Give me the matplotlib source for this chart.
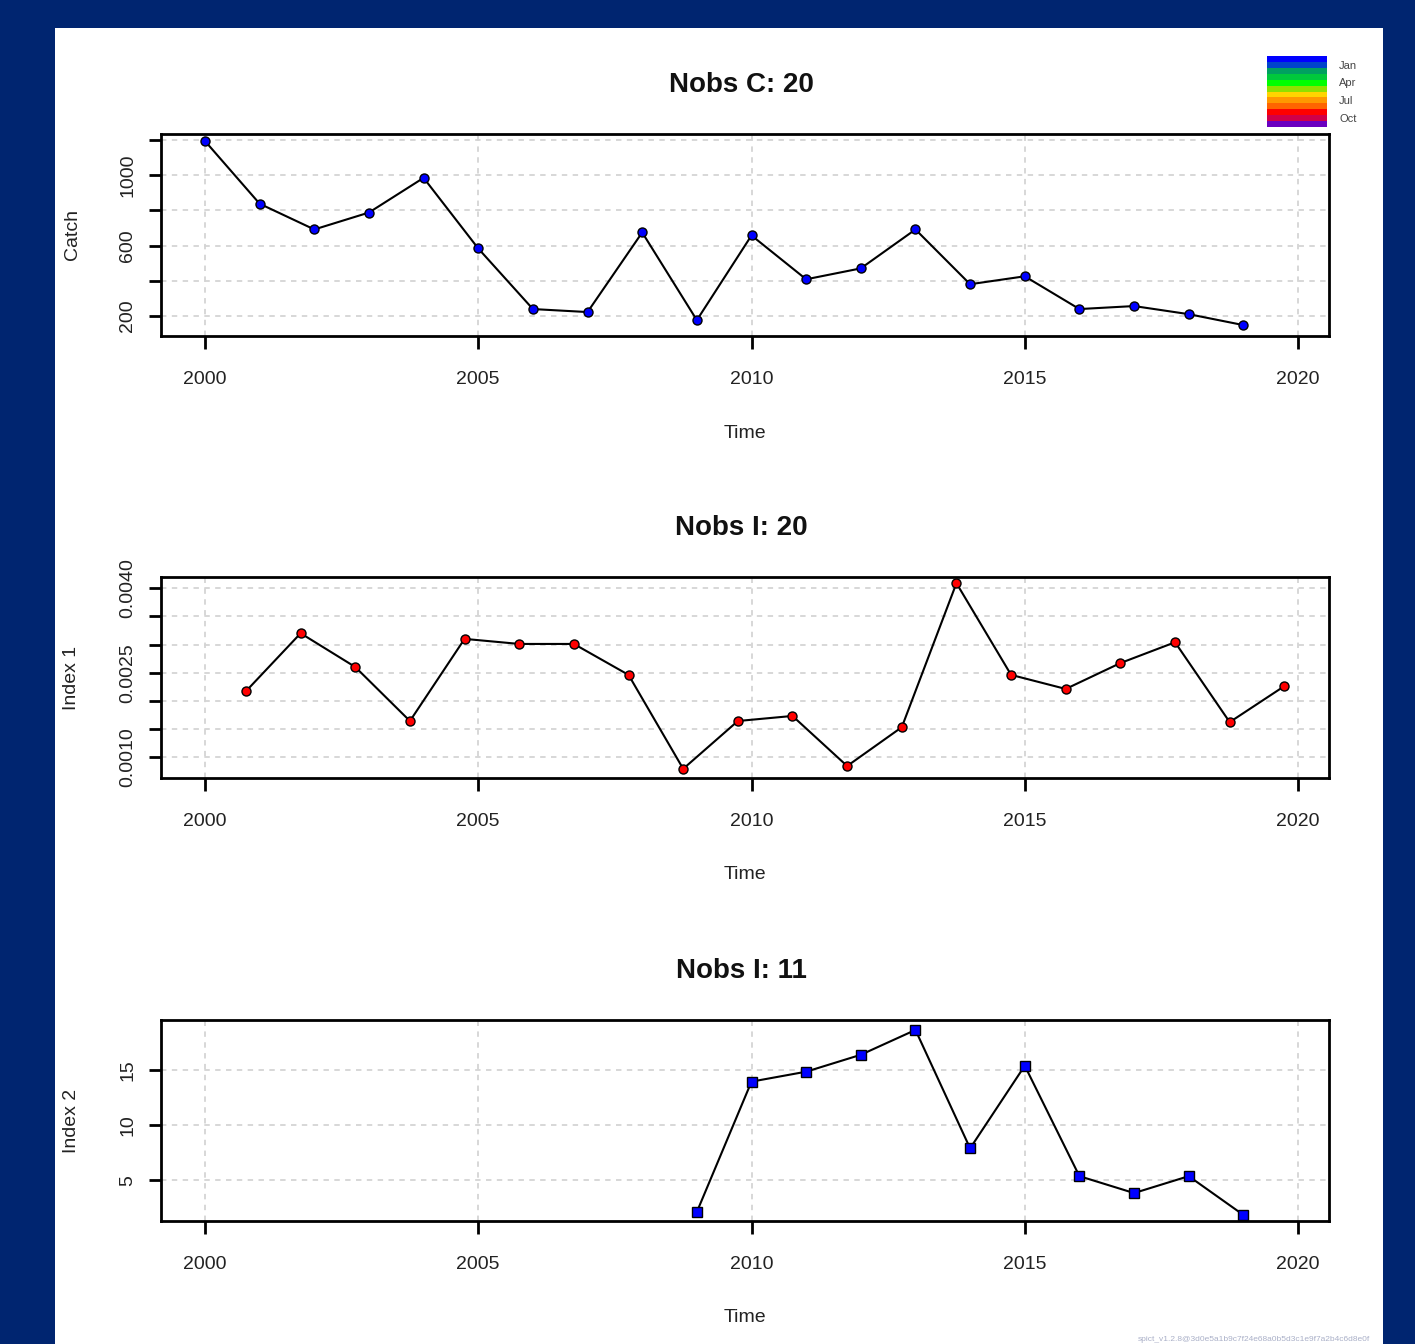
import matplotlib
matplotlib.use("Agg")
import matplotlib.pyplot as plt
from matplotlib.patches import Rectangle
import numpy as np

plt.rcParams['font.family'] = ['Liberation Sans', 'DejaVu Sans']

# Catch series (annual, January)
catch_time = [2000, 2001, 2002, 2003, 2004, 2005, 2006, 2007, 2008, 2009,
              2010, 2011, 2012, 2013, 2014, 2015, 2016, 2017, 2018, 2019]
catch_obs = [1194, 838, 692, 788, 985, 584, 240, 223, 675, 177,
             658, 409, 471, 692, 381, 426, 240, 257, 211, 149]

# Index 1 (surveyed in October)
index1_time = [2000.75, 2001.75, 2002.75, 2003.75, 2004.75, 2005.75, 2006.75,
               2007.75, 2008.75, 2009.75, 2010.75, 2011.75, 2012.75, 2013.75,
               2014.75, 2015.75, 2016.75, 2017.75, 2018.75, 2019.75]
index1_obs = [0.00217, 0.00320, 0.00260, 0.00164, 0.00310, 0.00301, 0.00301,
              0.00246, 0.00079, 0.00164, 0.00173, 0.00084, 0.00153, 0.00409,
              0.00246, 0.00221, 0.00267, 0.00304, 0.00162, 0.00226]

# Index 2 (January)
index2_time = [2009, 2010, 2011, 2012, 2013, 2014, 2015, 2016, 2017, 2018, 2019]
index2_obs = [2.12, 13.92, 14.82, 16.35, 18.6, 7.88, 15.36, 5.36, 3.83, 5.36, 1.85]

x_ticks = [2000, 2005, 2010, 2015, 2020]
month_labels = ['Jan', 'Apr', 'Jul', 'Oct']
month_colors = ['#0000FF', '#0044CC', '#00A060', '#00C83C', '#00FF00', '#90E000',
                '#FFD400', '#FF9800', '#FF6400', '#FF0000', '#D0004A', '#6A00C0']

W, H = 1415, 1344
fig = plt.figure(figsize=(W / 100, H / 100), dpi=100)
fig.patch.set_facecolor('#002570')
fig.patches.append(Rectangle((55 / W, 0), (1383 - 55) / W, 1 - 28 / H,
                             transform=fig.transFigure, facecolor='white',
                             edgecolor='none', zorder=-10))

def px_axes(top, bottom):
    ax = fig.add_axes([161 / W, 1 - bottom / H, (1329 - 161) / W, (bottom - top) / H])
    ax.set_facecolor('white')
    return ax

grid_kw = dict(color='#d4d4d4', linestyle=(0, (3, 3)), linewidth=1.3, zorder=0)
tick_fs = 14

def style(ax, ylim, yticks, ylabels, ylab, title):
    ax.set_xlim(1999.195, 2020.567)
    ax.set_ylim(*ylim)
    ax.set_xticks(x_ticks)
    ax.set_xticklabels([str(t) for t in x_ticks], fontsize=tick_fs, color='#222222')
    ax.set_yticks(yticks)
    ax.set_yticklabels(ylabels, fontsize=tick_fs, rotation=90, va='center', color='#222222')
    for t in x_ticks:
        ax.axvline(t, **grid_kw)
    for t in yticks:
        ax.axhline(t, **grid_kw)
    for s in ax.spines.values():
        s.set_linewidth(2.0)
    ax.tick_params(axis='both', length=9, width=2.0)
    ax.tick_params(axis='x', pad=16)
    ax.tick_params(axis='y', pad=9)
    ax.text(0.5, -97 / 202, 'Time', transform=ax.transAxes, ha='center', va='center',
            fontsize=tick_fs, color='#222222')
    ax.text(-89 / 1168, 0.5, ylab, transform=ax.transAxes, ha='center', va='center',
            rotation=90, fontsize=tick_fs, color='#222222')
    ax.text(0.497, 1 + 49 / 202, title, transform=ax.transAxes, ha='center', va='center',
            fontsize=20, fontweight='bold', color='#111111')

# Catch panel
ax1 = px_axes(134, 336)
ax1.plot(catch_time, catch_obs, color='black', lw=1.5, zorder=2)
ax1.plot(catch_time, catch_obs, 'o', ms=6.5, mfc='#0000FF', mec='black', mew=1.0, zorder=3)
style(ax1, (87, 1234), [200, 400, 600, 800, 1000, 1200],
      ['200', '', '600', '', '1000', ''], 'Catch', 'Nobs C: 20')

# Index 1 panel
ax2 = px_axes(577, 778)
ax2.plot(index1_time, index1_obs, color='black', lw=1.5, zorder=2)
ax2.plot(index1_time, index1_obs, 'o', ms=6.5, mfc='#FF0000', mec='black', mew=1.0, zorder=3)
i1_ticks = [0.0010, 0.0015, 0.0020, 0.0025, 0.0030, 0.0035, 0.0040]
style(ax2, (0.000627, 0.00420), i1_ticks,
      ['0.0010', '', '', '0.0025', '', '', '0.0040'], 'Index 1', 'Nobs I: 20')

# Index 2 panel
ax3 = px_axes(1020, 1221)
ax3.plot(index2_time, index2_obs, color='black', lw=1.5, zorder=2)
ax3.plot(index2_time, index2_obs, 's', ms=7.5, mfc='#0000FF', mec='black', mew=1.0, zorder=3)
style(ax3, (1.3, 19.5), [5, 10, 15], ['5', '10', '15'], 'Index 2', 'Nobs I: 11')

# Month colour key
cax = fig.add_axes([1267 / W, 1 - 127 / H, 60 / W, 71 / H])
n = len(month_colors)
for i, c in enumerate(month_colors):
    cax.add_patch(Rectangle((0, n - 1 - i), 1, 1, facecolor=c, edgecolor='none'))
cax.set_xlim(0, 1)
cax.set_ylim(0, n)
cax.axis('off')
for lab, ypx in zip(month_labels, [66, 83, 101, 119]):
    fig.text(1339 / W, 1 - ypx / H, lab, fontsize=8, color='#444444', ha='left', va='center')

# Version stamp in the bottom margin
fig.text(1370 / W, 1 / H, 'spict_v1.2.8@3d0e5a1b9c7f24e68a0b5d3c1e9f7a2b4c6d8e0f',
         fontsize=6, color='#aab0c8', ha='right', va='bottom')

fig.savefig('out.png', dpi=100, facecolor=fig.get_facecolor())
